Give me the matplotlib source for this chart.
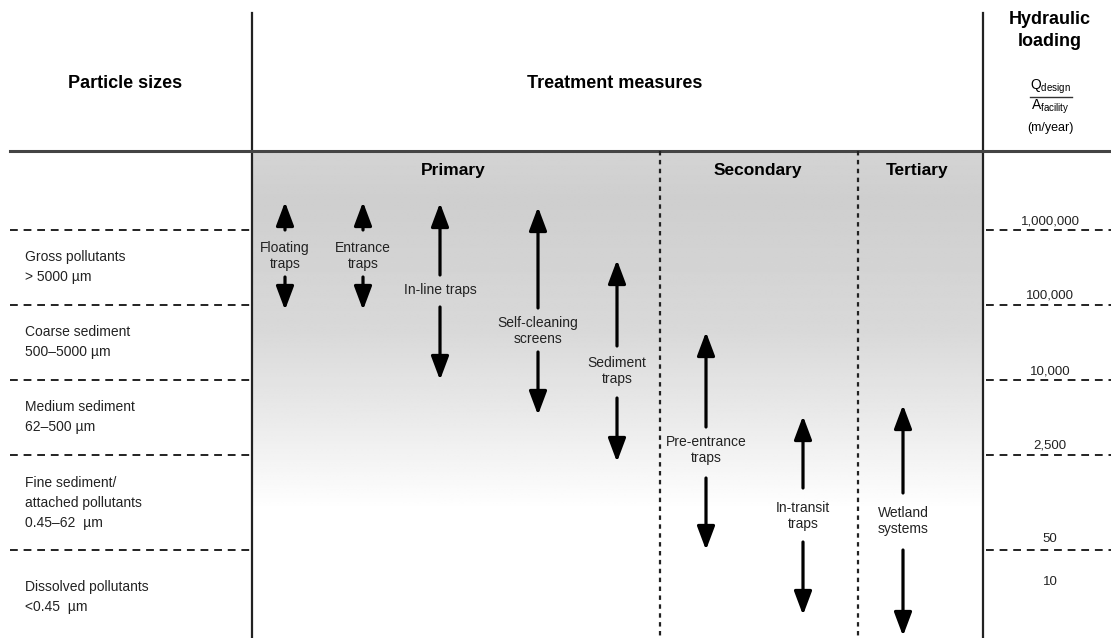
import numpy as np
import matplotlib
matplotlib.use('Agg')
from matplotlib import pyplot as plt

plt.rcParams['font.family'] = ['Liberation Sans', 'DejaVu Sans']
plt.rcParams['mathtext.fontset'] = 'custom'
plt.rcParams['mathtext.rm'] = 'Liberation Sans'

# particle size classes (left column)
size_classes = ['Gross pollutants\n> 5000 µm', 'Coarse sediment\n500–5000 µm',
                'Medium sediment\n62–500 µm',
                'Fine sediment/\nattached pollutants\n0.45–62  µm',
                'Dissolved pollutants\n<0.45  µm']
# hydraulic loading (m/year)
loading_labels = ['1,000,000', '100,000', '10,000', '2,500', '50', '10']

# treatment measures and stages
treatments = ['Floating\ntraps', 'Entrance\ntraps', 'In-line traps', 'Self-cleaning\nscreens',
              'Sediment\ntraps', 'Pre-entrance\ntraps', 'In-transit\ntraps', 'Wetland\nsystems']
stages = ['Primary', 'Secondary', 'Tertiary']

# layout in pixels
W, H = 1111, 638
fig = plt.figure(figsize=(W / 100, H / 100), dpi=100)
ax = fig.add_axes([0, 0, 1, 1])
ax.set_xlim(0, W)
ax.set_ylim(H, 0)
ax.axis('off')

x_mid, x_right = 252, 983
y_head = 151
row_lines = [230, 305, 380, 455, 550]
row_centres = [267, 342, 417, 503, 597]
label_y = [221, 296, 371, 446, 539, 582]

# grey shading of the treatment area
ys = np.linspace(y_head, H, 300)
shade = np.interp(ys, [y_head, 200, 330, 420, 510, H], [0.83, 0.81, 0.85, 0.92, 1.0, 1.0])
img = np.repeat(shade[:, None], 2, axis=1)
ax.imshow(img, cmap='gray', vmin=0, vmax=1, extent=[x_mid, x_right, H, y_head],
          aspect='auto', interpolation='bilinear', zorder=0)

# frame lines
ax.plot([x_mid, x_mid], [13, H], color='#222222', lw=1.6)
ax.plot([x_right, x_right], [13, H], color='#222222', lw=1.6)
ax.plot([10, W], [y_head, y_head], color='#444444', lw=2.2)
for x in [660, 858]:
    ax.plot([x, x], [y_head, H], color='#222222', lw=1.6, ls=(0, (2, 2)))
for y in row_lines:
    ax.plot([10, x_mid], [y, y], color='#222222', lw=1.4, ls=(0, (4, 3)))
    ax.plot([x_right + 3, W], [y, y], color='#222222', lw=1.4, ls=(0, (4, 3)))

# headers
ax.text(125, 83, 'Particle sizes', ha='center', va='center', fontsize=13, fontweight='bold')
ax.text(615, 83, 'Treatment measures', ha='center', va='center', fontsize=13, fontweight='bold')
ax.text(1050, 20, 'Hydraulic', ha='center', va='center', fontsize=13, fontweight='bold')
ax.text(1050, 42, 'loading', ha='center', va='center', fontsize=13, fontweight='bold')
ax.text(1050, 87, r'$\mathrm{Q}_{\mathrm{design}}$', ha='center', va='center', fontsize=10)
ax.plot([1030, 1072], [97, 97], color='#333333', lw=1)
ax.text(1050, 107, r'$\mathrm{A}_{\mathrm{facility}}$', ha='center', va='center', fontsize=10)
ax.text(1050, 128, '(m/year)', ha='center', va='center', fontsize=9)

for name, xc in zip(stages, [453, 758, 917]):
    ax.text(xc, 171, name, ha='center', va='center', fontsize=12.5, fontweight='bold')

for lab, yc in zip(size_classes, row_centres):
    ax.text(25, yc, lab, ha='left', va='center', fontsize=10, linespacing=1.55, color='#222222')

for lab, yc in zip(loading_labels, label_y):
    ax.text(1050, yc, lab, ha='center', va='center', fontsize=9.5, color='#222222')

# arrows: x, arrow top, end of upper shaft, label centre, start of lower shaft, arrow bottom
arrow_x = [285, 363, 440, 538, 617, 706, 803, 903]
arrow_top = [202, 202, 203, 207, 260, 332, 416, 405]
shaft_up = [230, 230, 275, 308, 346, 427, 488, 493]
label_c = [256, 256, 290, 331, 371, 450, 516, 521]
shaft_dn = [277, 277, 307, 352, 398, 478, 542, 550]
arrow_bot = [310, 310, 380, 415, 462, 550, 615, 636]

astyle = dict(arrowstyle='-|>,head_length=1.2,head_width=0.45', lw=2.3, color='black',
              mutation_scale=12, shrinkA=0, shrinkB=0)
for i, name in enumerate(treatments):
    x = arrow_x[i]
    ax.annotate('', xy=(x, arrow_top[i]), xytext=(x, shaft_up[i]), arrowprops=astyle)
    ax.annotate('', xy=(x, arrow_bot[i]), xytext=(x, shaft_dn[i]), arrowprops=astyle)
    ax.text(x, label_c[i], name, ha='center', va='center', fontsize=10,
            linespacing=1.2, color='#222222')

plt.savefig('out.png', dpi=100)
